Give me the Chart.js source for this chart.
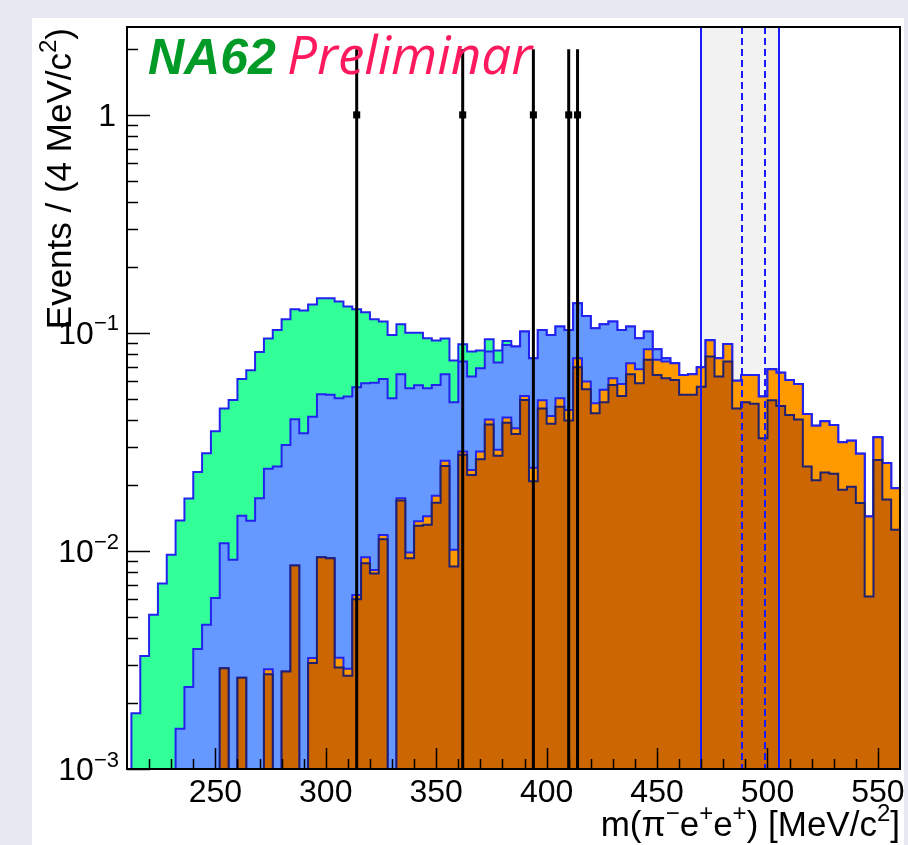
<!DOCTYPE html>
<html>
<head>
<meta charset="utf-8">
<title>m(π⁻e⁺e⁺) spectrum</title>
<script src="https://cdn.jsdelivr.net/npm/chart.js@4.4.0/dist/chart.umd.min.js"></script>
<style>
    html, body { margin: 0; padding: 0; background: #e8e8f2; }
    #massChart { display: block; }
</style>
</head>
<body>
<canvas id="massChart" width="908" height="845"></canvas>
<script>
// Binning: 4 MeV/c2 bins starting at 212 MeV/c2
const binLow = 212;
const binWidth = 4;

// Stacked histogram tops per bin (cumulative sums, events / bin)
const stackGreen = [
    0.0018, 0.0033, 0.0051, 0.0071, 0.0096, 0.0138, 0.0174, 0.0230, 0.0281, 0.0354,
    0.0450, 0.0493, 0.0614, 0.0675, 0.0818, 0.0943, 0.1032, 0.1155, 0.1285, 0.1268,
    0.1350, 0.1443, 0.1443, 0.1392, 0.1321, 0.1283, 0.1244, 0.1155, 0.1127, 0.0979,
    0.1096, 0.1003, 0.1003, 0.0945, 0.0922, 0.0942, 0.0747, 0.0887, 0.0821, 0.0830,
    0.0935, 0.0830, 0.0919, 0.0866, 0.1014, 0.0765, 0.1032, 0.0979, 0.1070, 0.1032,
    0.1368, 0.1197, 0.1051, 0.1096, 0.1127, 0.1032, 0.1070, 0.0945, 0.1014, 0.0841,
    0.0765, 0.0726, 0.0642, 0.0647, 0.0696, 0.0925, 0.0765, 0.0890, 0.0604, 0.0642,
    0.0642, 0.0511, 0.0681, 0.0657, 0.0609, 0.0583, 0.0425, 0.0375, 0.0393, 0.0378,
    0.0315, 0.0320, 0.0279, 0.0144, 0.0332, 0.0253, 0.0194
];
const stackBlue = [
    0, 0, 0, 0, 0, 0.00153, 0.00238, 0.00355, 0.00459, 0.00608,
    0.01086, 0.00911, 0.01449, 0.01377, 0.01747, 0.0238, 0.0244, 0.0306, 0.0402, 0.0347,
    0.0413, 0.0523, 0.0520, 0.0502, 0.0511, 0.0564, 0.0587, 0.0591, 0.0614, 0.0502,
    0.0646, 0.0558, 0.0575, 0.0558, 0.0577, 0.0646, 0.0481, 0.0739, 0.0631, 0.0688,
    0.0821, 0.0731, 0.0881, 0.0866, 0.1014, 0.0765, 0.1032, 0.0979, 0.1070, 0.1032,
    0.1368, 0.1197, 0.1051, 0.1096, 0.1127, 0.1032, 0.1070, 0.0945, 0.1014, 0.0841,
    0.0765, 0.0726, 0.0642, 0.0647, 0.0696, 0.0925, 0.0765, 0.0890, 0.0604, 0.0642,
    0.0642, 0.0511, 0.0681, 0.0657, 0.0609, 0.0583, 0.0425, 0.0375, 0.0393, 0.0378,
    0.0315, 0.0320, 0.0279, 0.0144, 0.0332, 0.0253, 0.0194
];
const stackOrange = [
    0, 0, 0, 0, 0, 0, 0, 0, 0, 0,
    0.0029, 0, 0.00262, 0, 0, 0.00287, 0, 0.0028, 0.00858, 0,
    0.00323, 0.00936, 0.00925, 0.00324, 0.00288, 0.00628, 0.00937, 0.00817, 0.01185, 0,
    0.01745, 0.00984, 0.01367, 0.01442, 0.01792, 0.0259, 0.01013, 0.0286, 0.02354, 0.0286,
    0.0401, 0.0291, 0.0409, 0.0365, 0.0514, 0.0241, 0.0491, 0.0416, 0.0502, 0.0443,
    0.0765, 0.0598, 0.0476, 0.0549, 0.0619, 0.0583, 0.0726, 0.0681, 0.0841, 0.0754,
    0.0739, 0.0726, 0.0642, 0.0647, 0.0696, 0.0925, 0.0765, 0.0890, 0.0604, 0.0642,
    0.0642, 0.0511, 0.0681, 0.0657, 0.0609, 0.0583, 0.0425, 0.0375, 0.0393, 0.0378,
    0.0315, 0.0320, 0.0279, 0.0144, 0.0332, 0.0253, 0.0194
];
const stackDark = [
    0, 0, 0, 0, 0, 0, 0, 0, 0, 0,
    0.0029, 0, 0.00262, 0, 0, 0.00272, 0, 0.0028, 0.00858, 0,
    0.00306, 0.00936, 0.00925, 0.00292, 0.00268, 0.0060, 0.00879, 0.00788, 0.01132, 0,
    0.01703, 0.00925, 0.01306, 0.01320, 0.01665, 0.02455, 0.00848, 0.0276, 0.0223, 0.02636,
    0.0380, 0.02734, 0.0387, 0.0344, 0.0493, 0.0209, 0.0450, 0.0383, 0.0459, 0.0397,
    0.0696, 0.0552, 0.0428, 0.0481, 0.0577, 0.0514, 0.0646, 0.0587, 0.0754, 0.0642,
    0.0619, 0.0609, 0.0520, 0.0520, 0.0567, 0.0779, 0.0631, 0.0739, 0.0450, 0.0481,
    0.0473, 0.0329, 0.0491, 0.0462, 0.0420, 0.0401, 0.0244, 0.0211, 0.0229, 0.0226,
    0.0191, 0.0197, 0.0166, 0.00619, 0.0261, 0.0172, 0.0125
];

// Observed candidates (one per bin, Poisson error sqrt(1))
const dataMass = [314, 362, 394, 410, 414];
const dataEvents = [1, 1, 1, 1, 1];
const dataErr = [1, 1, 1, 1, 1];

// Signal region and kaon mass window
const signalRegion = [470, 505];
const kaonWindow = [488.68, 498.68];

// Axis ticks
const xMajorTicks = [250, 300, 350, 400, 450, 500, 550];
const xMinorStep = 10;
const yDecades = [-3, -2, -1, 0];

const X_MIN = 210, X_MAX = 560;
const Y_MIN = 0.001, Y_MAX = 2.53;
const FLOOR = 1e-5;

const FONT = '"Liberation Sans", Arial, Helvetica, sans-serif';

document.addEventListener('DOMContentLoaded', function() {
    initMassChart();
});

/**
 * Step outline for a histogram: one point per low bin edge,
 * closed down to the floor on both sides.
 */
function histPoints(values) {
    const pts = [{ x: binLow, y: FLOOR }];
    values.forEach(function(v, i) {
        pts.push({ x: binLow + i * binWidth, y: v > 0 ? v : FLOOR });
    });
    const last = values[values.length - 1];
    const hi = binLow + values.length * binWidth;
    pts.push({ x: hi, y: last > 0 ? last : FLOOR });
    pts.push({ x: hi, y: FLOOR });
    return pts;
}

function histDataset(values, fill, line, order) {
    return {
        type: 'line',
        data: histPoints(values),
        stepped: 'before',
        fill: 'start',
        backgroundColor: fill,
        borderColor: line,
        borderWidth: 2,
        pointRadius: 0,
        order: order,
        clip: 0
    };
}

/**
 * Text with superscript parts: parts = [[text, isSup], ...]
 */
function drawRich(ctx, parts, x, y, size, align) {
    const supSize = Math.round(size * 0.68);
    let total = 0;
    parts.forEach(function(p) {
        ctx.font = (p[1] ? supSize : size) + 'px ' + FONT;
        total += ctx.measureText(p[0]).width;
    });
    let cx = align === 'right' ? x - total : (align === 'center' ? x - total / 2 : x);
    ctx.textAlign = 'left';
    ctx.textBaseline = 'alphabetic';
    parts.forEach(function(p) {
        ctx.font = (p[1] ? supSize : size) + 'px ' + FONT;
        ctx.fillText(p[0], cx, p[1] ? y - size * 0.42 : y);
        cx += ctx.measureText(p[0]).width;
    });
}

const pageBackground = {
    id: 'pageBackground',
    beforeDraw(chart) {
        const ctx = chart.ctx;
        ctx.save();
        ctx.fillStyle = '#e8e8f2';
        ctx.fillRect(0, 0, chart.width, chart.height);
        ctx.fillStyle = '#ffffff';
        ctx.fillRect(32, 18, 872, chart.height - 18);
        ctx.restore();
    }
};

const signalBand = {
    id: 'signalBand',
    beforeDatasetsDraw(chart) {
        const ctx = chart.ctx;
        const area = chart.chartArea;
        const x = chart.scales.x;
        const x0 = x.getPixelForValue(signalRegion[0]);
        const x1 = x.getPixelForValue(signalRegion[1]);
        ctx.save();
        ctx.fillStyle = '#f2f2f2';
        ctx.fillRect(x0, area.top, x1 - x0, area.bottom - area.top);
        ctx.restore();
    },
    afterDatasetsDraw(chart) {
        const ctx = chart.ctx;
        const area = chart.chartArea;
        const x = chart.scales.x;
        const y = chart.scales.y;
        ctx.save();
        ctx.beginPath();
        ctx.rect(area.left, area.top, area.right - area.left, area.bottom - area.top);
        ctx.clip();

        ctx.strokeStyle = '#1a1aff';
        ctx.lineWidth = 2;
        signalRegion.forEach(function(m) {
            const px = Math.round(x.getPixelForValue(m));
            ctx.beginPath();
            ctx.moveTo(px, area.top);
            ctx.lineTo(px, area.bottom);
            ctx.stroke();
        });
        ctx.setLineDash([7, 4]);
        kaonWindow.forEach(function(m) {
            const px = Math.round(x.getPixelForValue(m));
            ctx.beginPath();
            ctx.moveTo(px, area.top);
            ctx.lineTo(px, area.bottom);
            ctx.stroke();
        });
        ctx.setLineDash([]);

        // error bars of the candidates
        ctx.strokeStyle = '#000000';
        ctx.lineWidth = 3;
        dataMass.forEach(function(m, i) {
            const px = x.getPixelForValue(m);
            const hi = dataEvents[i] + dataErr[i];
            const lo = dataEvents[i] - dataErr[i];
            const yTop = y.getPixelForValue(hi);
            const yBot = lo > 0 ? y.getPixelForValue(lo) : area.bottom;
            ctx.beginPath();
            ctx.moveTo(px, yTop);
            ctx.lineTo(px, yBot);
            ctx.stroke();
        });
        ctx.restore();
    }
};

const rootAxes = {
    id: 'rootAxes',
    afterDraw(chart) {
        const ctx = chart.ctx;
        const area = chart.chartArea;
        const x = chart.scales.x;
        const y = chart.scales.y;
        ctx.save();

        // frame
        ctx.strokeStyle = '#000000';
        ctx.lineWidth = 2;
        ctx.strokeRect(area.left, area.top, area.right - area.left, area.bottom - area.top);

        // x ticks
        ctx.lineWidth = 1.5;
        ctx.beginPath();
        for (let v = X_MIN + xMinorStep; v < X_MAX; v += xMinorStep) {
            const px = Math.round(x.getPixelForValue(v)) + 0.5;
            const len = xMajorTicks.indexOf(v) >= 0 ? 21 : 10;
            ctx.moveTo(px, area.bottom);
            ctx.lineTo(px, area.bottom - len);
        }
        ctx.stroke();

        // y ticks (log, 1..9 per decade)
        ctx.beginPath();
        yDecades.forEach(function(n) {
            for (let k = 1; k <= 9; k++) {
                const v = k * Math.pow(10, n);
                if (v < Y_MIN || v > Y_MAX) continue;
                const py = Math.round(y.getPixelForValue(v)) + 0.5;
                const len = k === 1 ? 23 : 11;
                ctx.moveTo(area.left, py);
                ctx.lineTo(area.left + len, py);
            }
        });
        ctx.stroke();

        // tick labels
        ctx.fillStyle = '#000000';
        xMajorTicks.forEach(function(v) {
            drawRich(ctx, [[String(v), false]], x.getPixelForValue(v), area.bottom + 33, 32, 'center');
        });
        yDecades.forEach(function(n) {
            const py = y.getPixelForValue(Math.pow(10, n));
            if (n === 0) {
                drawRich(ctx, [['1', false]], 116, py + 11, 32, 'right');
            } else {
                drawRich(ctx, [['10', false], ['\u2212' + Math.abs(n), true]], 119, py + 11, 32, 'right');
            }
        });

        // axis titles
        drawRich(ctx, [['m(\u03c0', false], ['\u2212', true], ['e', false], ['+', true],
            ['e', false], ['+', true], [') [MeV/c', false], ['2', true], [']', false]],
            area.right, 836, 35, 'right');

        ctx.save();
        ctx.translate(71, 28);
        ctx.rotate(-Math.PI / 2);
        drawRich(ctx, [['Events / (4 MeV/c', false], ['2', true], [')', false]], 0, 0, 35, 'right');
        ctx.restore();

        // experiment label
        ctx.textAlign = 'left';
        ctx.textBaseline = 'alphabetic';
        ctx.fillStyle = '#009a26';
        ctx.font = 'italic bold 50px ' + FONT;
        ctx.fillText('NA62', 148, 74);
        ctx.fillStyle = '#ff1a5e';
        ctx.font = 'italic 53px "Open Sans", "DejaVu Sans", sans-serif';
        ctx.fillText('Preliminar', 287, 74);

        ctx.restore();
    }
};

function initMassChart() {
    const ctx = document.getElementById('massChart');
    if (!ctx) return;

    new Chart(ctx, {
        type: 'line',
        data: {
            datasets: [
                {
                    type: 'scatter',
                    data: dataMass.map(function(m, i) { return { x: m, y: dataEvents[i] }; }),
                    pointStyle: 'rect',
                    pointRadius: 5,
                    pointBackgroundColor: '#000000',
                    pointBorderWidth: 0,
                    showLine: false,
                    order: 0
                },
                histDataset(stackDark, '#cc6600', '#202070', 1),
                histDataset(stackOrange, '#ff9900', '#2323f0', 2),
                histDataset(stackBlue, '#6699ff', '#2323f0', 3),
                histDataset(stackGreen, '#33ff99', '#2323f0', 4)
            ]
        },
        options: {
            responsive: false,
            animation: false,
            devicePixelRatio: 1,
            layout: {
                padding: { left: 127, top: 27, right: 8, bottom: 76 }
            },
            plugins: {
                legend: { display: false },
                tooltip: { enabled: false }
            },
            scales: {
                x: { type: 'linear', min: X_MIN, max: X_MAX, display: false },
                y: { type: 'logarithmic', min: Y_MIN, max: Y_MAX, display: false }
            }
        },
        plugins: [pageBackground, signalBand, rootAxes]
    });
}
</script>
</body>
</html>
